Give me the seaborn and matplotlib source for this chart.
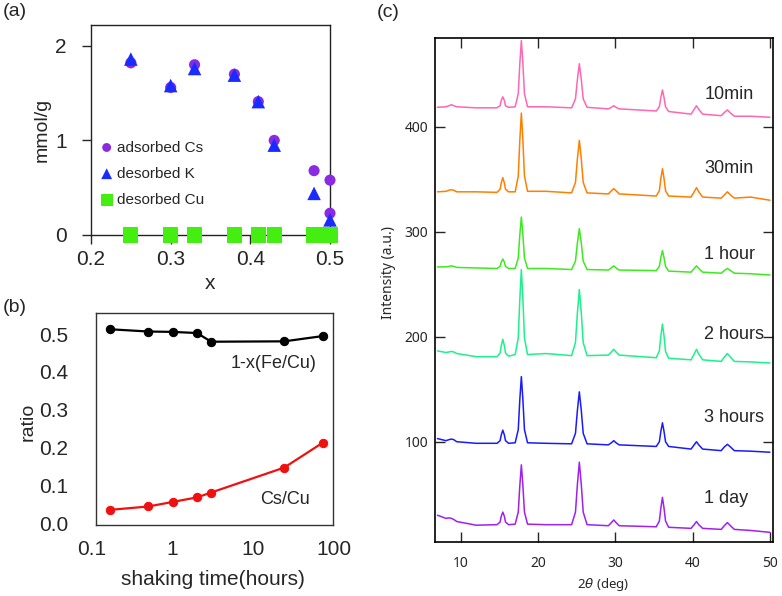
import pandas as pd
import matplotlib
matplotlib.use("Agg")
import matplotlib.pyplot as plt
import seaborn as sns

sns.set_style("ticks")
plt.rcParams["font.family"] = ["Liberation Sans", "DejaVu Sans"]
plt.rcParams["mathtext.fontset"] = "dejavusans"

# === (a) adsorption / desorption vs x ===
x_cs = [0.25, 0.30, 0.33, 0.38, 0.41, 0.43, 0.48, 0.50, 0.50]
cs_adsorbed = [1.82, 1.56, 1.80, 1.70, 1.41, 1.00, 0.68, 0.58, 0.23]
x_k = [0.25, 0.30, 0.33, 0.38, 0.41, 0.43, 0.48, 0.50]
k_desorbed = [1.86, 1.58, 1.76, 1.69, 1.41, 0.95, 0.44, 0.16]
x_cu = [0.25, 0.30, 0.33, 0.38, 0.41, 0.43, 0.48, 0.50]
cu_desorbed = [0, 0, 0, 0, 0, 0, 0, 0]

# === (b) ratios vs shaking time ===
shaking_h = [0.167, 0.5, 1, 2, 3, 24, 72]
fe_cu = [0.513, 0.507, 0.506, 0.503, 0.480, 0.481, 0.495]
cs_cu = [0.035, 0.044, 0.056, 0.068, 0.081, 0.147, 0.213]
time_ticks = [0.1, 1, 10, 100]
time_tick_labels = ["0.1", "1", "10", "100"]

# === (c) XRD patterns ===
two_theta = [7.0, 8.1, 8.5, 8.8, 9.1, 9.5, 12.0,
             14.7, 15.1, 15.25, 15.45, 15.65, 15.8, 16.2,
             17.05, 17.45, 17.65, 17.85, 18.05, 18.25, 18.65,
             21.0,
             24.35, 24.85, 25.1, 25.35, 25.6, 25.85, 26.35,
             29.1, 29.5, 29.8, 30.1, 30.5,
             35.3, 35.7, 35.9, 36.1, 36.3, 36.5, 36.9,
             39.8, 40.2, 40.5, 40.8, 41.3,
             43.7, 44.1, 44.5, 44.9, 45.4,
             47.5, 50.0]
xrd_10min = [418.5, 419, 420, 421, 420, 419, 418,
             418, 420, 425, 428.5, 425, 420, 418.5,
             419, 431.5, 460, 482, 460, 431.5, 419,
             419,
             418, 426.5, 445, 460, 445, 426.5, 418.5,
             417, 418.5, 420, 418.5, 417,
             415, 419, 428, 435, 428, 419, 414.5,
             412, 416.5, 420, 416.5, 412,
             410.5, 413.5, 416, 413, 410,
             410, 409]
xrd_30min = [338, 338.5, 339.5, 340, 339.5, 338, 338,
             337.5, 340.5, 346.5, 351.5, 346.5, 340.5, 338,
             338, 353, 387, 413, 387, 353, 338.5,
             338.5,
             337, 347, 369.5, 387, 369.5, 347, 337,
             336, 339, 341, 339, 336,
             334, 339, 351, 360, 351, 339, 334,
             333, 338, 342, 338, 333,
             332, 335, 338, 335, 332,
             333, 330]
xrd_1hour = [266.5, 266.5, 267, 267.5, 267, 266, 265.5,
             265, 267, 271, 274, 271, 267, 265,
             265, 275, 297, 314, 297, 275, 265,
             265,
             264, 272, 289.5, 303, 289.5, 272, 264,
             263.5, 265.5, 267.5, 265.5, 263.5,
             263, 267, 275.5, 282, 275.5, 267, 262.5,
             261.5, 265, 267.5, 265, 261.5,
             260.5, 263, 265, 263, 260.5,
             260, 258.8]
xrd_2hours = [186.5, 185, 185.5, 186, 185.5, 184, 181,
              181, 184.5, 191.5, 197.5, 191.5, 184.5, 181.5,
              183, 199, 235.5, 264, 235.5, 199, 183,
              184,
              182, 194.5, 223, 245, 223, 194.5, 182,
              182.5, 185.5, 188, 185.5, 182.5,
              180, 186.5, 201, 212, 201, 186, 179.5,
              178, 183.5, 188, 183.5, 178,
              176.5, 180.5, 184, 180.5, 176.5,
              176, 175]
xrd_3hours = [103, 101, 102, 102.5, 102, 100, 98.5,
              98.5, 101, 106.5, 111, 106.5, 101, 98.5,
              99, 111.5, 140, 162, 140, 111.5, 99,
              98.5,
              98, 108, 130, 147.5, 130, 108, 98,
              97, 99, 101, 99, 97,
              95.5, 100, 110, 118, 110, 100, 95.5,
              93, 97, 100, 97, 93,
              91.5, 95, 97.5, 95, 91.5,
              91, 90]
xrd_1day = [30, 27, 27.5, 27, 26, 24, 20.5,
            21, 23.5, 29, 33, 29, 23.5, 21,
            21.5, 33, 58, 78, 58, 33, 21.5,
            21,
            21, 33, 59.5, 80.5, 59.5, 33, 21,
            20, 23, 25.5, 23, 20,
            19, 24.5, 37, 47, 37, 24.5, 18.5,
            17.5, 21, 24, 21, 17.5,
            16.5, 20, 23, 20, 16.5,
            15.5, 13.7]
xrd_names = ["10min", "30min", "1 hour", "2 hours", "3 hours", "1 day"]
xrd_label_y = [431, 360, 278, 202, 123, 46]
xrd_colors = ["#ff66b3", "#ff7f00", "#3ceb1e", "#1ef08c", "#1a1aff", "#a020f0"]

W, H = 782, 596
fig = plt.figure(figsize=(W / 100, H / 100), dpi=100)


def px_axes(left, top, right, bottom):
    return fig.add_axes([left / W, 1 - bottom / H, (right - left) / W, (bottom - top) / H])


# ---------- (a) ----------
ax_a = px_axes(91, 25, 330, 235)
sns.scatterplot(x=x_cs, y=cs_adsorbed, ax=ax_a, marker="o", s=64, color="#8a2be2",
                edgecolor="none", label="adsorbed Cs", clip_on=False, zorder=3)
sns.scatterplot(x=x_k, y=k_desorbed, ax=ax_a, marker="^", s=95, color="#1a2bff",
                edgecolor="none", label="desorbed K", clip_on=False, zorder=4)
sns.scatterplot(x=x_cu, y=cu_desorbed, ax=ax_a, marker="s", s=120, color="#44ee11",
                edgecolor="none", label="desorbed Cu", clip_on=False, zorder=5)
ax_a.set_xlim(0.2, 0.5)
ax_a.set_ylim(0, 2.22)
ax_a.set_xticks([0.2, 0.3, 0.4, 0.5])
ax_a.set_xticklabels(["0.2", "0.3", "0.4", "0.5"])
ax_a.set_yticks([0, 1, 2])
ax_a.tick_params(axis="both", direction="out", length=6.5, width=1, labelsize=15)
ax_a.tick_params(axis="y", pad=11)
ax_a.tick_params(axis="x", pad=4)
for sp in ax_a.spines.values():
    sp.set_color("#222222")
    sp.set_linewidth(1)
ax_a.set_xlabel("x", fontsize=15, va="center")
ax_a.xaxis.set_label_coords(0.5, -0.229)
ax_a.set_ylabel("mmol/g", fontsize=14, va="center")
ax_a.yaxis.set_label_coords(-0.205, 0.5)
ax_a.legend(loc="upper left", bbox_to_anchor=(0.04, 0.45), frameon=False, fontsize=11,
            handlelength=0.8, handletextpad=0.25, labelspacing=0.8, borderpad=0,
            borderaxespad=0, markerscale=0.8)

# ---------- (b) ----------
ax_b = px_axes(96, 313, 333, 525)
sns.lineplot(x=shaking_h, y=fe_cu, ax=ax_b, color="black", marker="o", markersize=6,
             markeredgecolor="black", linewidth=1.6, clip_on=False)
sns.lineplot(x=shaking_h, y=cs_cu, ax=ax_b, color="#f01010", marker="o", markersize=6,
             markeredgecolor="#f01010", linewidth=1.6, clip_on=False)
ax_b.set_xscale("log")
ax_b.set_xlim(0.113, 96)
ax_b.set_ylim(-0.005, 0.556)
ax_b.xaxis.set_major_locator(matplotlib.ticker.NullLocator())
ax_b.xaxis.set_minor_locator(matplotlib.ticker.NullLocator())
for v, s in zip(time_ticks, time_tick_labels):
    ax_b.text(v, -0.071, s, transform=ax_b.get_xaxis_transform(), ha="center",
              va="top", fontsize=15)
ax_b.set_yticks([0.0, 0.1, 0.2, 0.3, 0.4, 0.5])
ax_b.set_yticklabels(["0.0", "0.1", "0.2", "0.3", "0.4", "0.5"])
ax_b.tick_params(axis="y", length=0, labelsize=15, pad=20)
for sp in ax_b.spines.values():
    sp.set_color("#333333")
    sp.set_linewidth(1)
ax_b.set_xlabel("shaking time(hours)", fontsize=15, va="center")
ax_b.xaxis.set_label_coords(0.494, -0.259)
ax_b.set_ylabel("ratio", fontsize=14, va="center")
ax_b.yaxis.set_label_coords(-0.287, 0.487)
ax_b.text(0.931, 0.764, "1-x(Fe/Cu)", transform=ax_b.transAxes, ha="right",
          va="center", fontsize=13)
ax_b.text(0.903, 0.118, "Cs/Cu", transform=ax_b.transAxes, ha="right",
          va="center", fontsize=13)

# ---------- (c) ----------
ax_c = px_axes(435, 38, 773, 542)
xrd_series = [xrd_10min, xrd_30min, xrd_1hour, xrd_2hours, xrd_3hours, xrd_1day]
xrd_df = pd.concat(
    [pd.DataFrame({"two_theta": two_theta, "intensity": vals, "time": name})
     for name, vals in zip(xrd_names, xrd_series)],
    ignore_index=True,
)
sns.lineplot(data=xrd_df, x="two_theta", y="intensity", hue="time",
             palette=dict(zip(xrd_names, xrd_colors)), estimator=None, sort=False,
             linewidth=1.1, legend=False, ax=ax_c)
for name, ly in zip(xrd_names, xrd_label_y):
    ax_c.text(41.5, ly, name, ha="left", va="center", fontsize=13)
ax_c.set_xlim(6.68, 50.4)
ax_c.set_ylim(4.5, 484.5)
ax_c.set_xticks([10, 20, 30, 40, 50])
ax_c.set_yticks([100, 200, 300, 400])
ax_c.tick_params(axis="both", direction="in", length=7, width=1,
                 top=True, right=True, labelsize=10)
ax_c.tick_params(axis="x", pad=10)
ax_c.tick_params(axis="y", pad=5)
for lab in ax_c.get_xticklabels() + ax_c.get_yticklabels():
    lab.set_family(["Noto Sans", "DejaVu Sans"])
for sp in ax_c.spines.values():
    sp.set_color("black")
    sp.set_linewidth(1.2)
ax_c.set_xlabel("2$\\theta$ (deg)", fontsize=9.5, va="center",
                family=["Noto Sans", "DejaVu Sans"])
ax_c.xaxis.set_label_coords(0.497, -0.085)
ax_c.set_ylabel("Intensity (a.u.)", fontsize=10, va="center",
                family=["Noto Sans", "DejaVu Sans"])
ax_c.yaxis.set_label_coords(-0.139, 0.534)

# panel labels
fig.text(3 / W, 1 - 11 / H, "(a)", fontsize=14, va="center", ha="left")
fig.text(3 / W, 1 - 308 / H, "(b)", fontsize=14, va="center", ha="left")
fig.text(377 / W, 1 - 12.5 / H, "(c)", fontsize=14, va="center", ha="left")

fig.savefig("out.png", dpi=100)
